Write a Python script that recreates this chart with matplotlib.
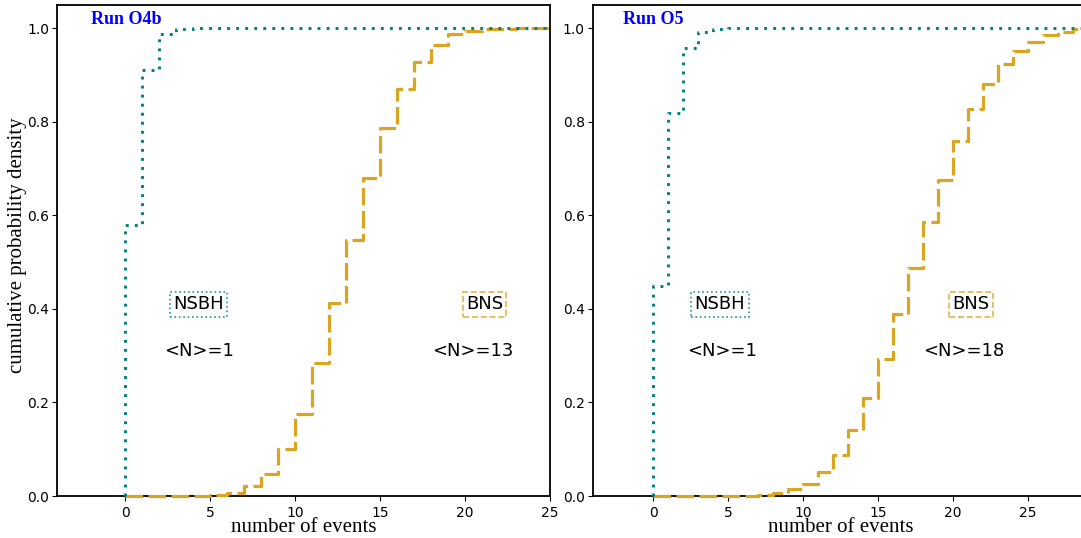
import numpy as np
import matplotlib
matplotlib.use('Agg')
import matplotlib.pyplot as plt

# cumulative probability of detecting N events, per observing run
o4b_nsbh = [0.58, 0.91, 0.989, 0.998, 1.0, 1.0]
o4b_bns = [0.0, 0.0, 0.0001, 0.0003, 0.0008, 0.002, 0.007, 0.021, 0.048, 0.10,
           0.176, 0.285, 0.413, 0.548, 0.679, 0.788, 0.871, 0.929, 0.965, 0.987,
           0.994, 0.998, 0.999, 1.0, 1.0, 1.0]

o5_nsbh = [0.45, 0.818, 0.958, 0.992, 0.998, 1.0, 1.0]
o5_bns = [0.0, 0.0, 0.0, 0.0, 0.0002, 0.0005, 0.001, 0.003, 0.006, 0.014,
          0.026, 0.051, 0.088, 0.142, 0.21, 0.294, 0.389, 0.487, 0.585, 0.676,
          0.760, 0.827, 0.882, 0.923, 0.951, 0.971, 0.985, 0.993, 0.998, 1.0, 1.0]

runs = ['Run O4b', 'Run O5']
mean_nsbh = [1, 1]
mean_bns = [13, 18]

NSBH_C = '#008080'
BNS_C = '#DAA520'

fig = plt.figure(figsize=(10.81, 5.38), dpi=100)
ax_left = fig.add_axes([57.3 / 1081, 42 / 538, 492.7 / 1081, 491 / 538])
ax_right = fig.add_axes([593 / 1081, 42 / 538, 495 / 1081, 491 / 538])


def draw_cdf(ax, vals, xmax, **kw):
    # step curve starting from zero at N=0, last level held to the axis edge
    n = np.arange(len(vals))
    x = np.r_[0, n, xmax]
    y = np.r_[0, vals, vals[-1]]
    ax.step(x, y, where='post', clip_on=False, zorder=3, **kw)


setups = [
    (ax_left, o4b_nsbh, o4b_bns, (-4, 25), (4.32, 21.14), (4.32, 20.47)),
    (ax_right, o5_nsbh, o5_bns, (-4, 29), (4.47, 21.2), (4.6, 20.7)),
]

for i, (ax, nsbh, bns, xlim, box_x, mean_x) in enumerate(setups):
    draw_cdf(ax, bns, xlim[1], color=BNS_C, lw=2.3,
             linestyle=(0, (5.5, 1.7)))
    draw_cdf(ax, nsbh, xlim[1], color=NSBH_C, lw=2.1,
             linestyle=(0, (1, 2.1)))

    ax.set_xlim(*xlim)
    ax.set_ylim(0, 1.05)
    ax.set_xticks([0, 5, 10, 15, 20, 25])
    ax.set_yticks([0.0, 0.2, 0.4, 0.6, 0.8, 1.0])
    ax.tick_params(labelsize=10)
    ax.tick_params(axis='y', pad=2.5)
    for sp in ax.spines.values():
        sp.set_linewidth(1.3)

    ax.text(-2, 1.0, runs[i], color='blue', fontweight='bold',
            family='Liberation Serif', fontsize=13, va='bottom', ha='left')

    ax.text(box_x[0], 0.41, 'NSBH', fontsize=13, ha='center', va='center',
            bbox=dict(boxstyle='square,pad=0.18', fc='none', ec=NSBH_C,
                      ls=':', lw=1.2, alpha=0.85))
    ax.text(box_x[1], 0.41, 'BNS', fontsize=13, ha='center', va='center',
            bbox=dict(boxstyle='square,pad=0.18', fc='none', ec=BNS_C,
                      ls='--', lw=1.2, alpha=0.8))
    ax.text(mean_x[0], 0.31, '<N>=%d' % mean_nsbh[i], fontsize=13,
            ha='center', va='center')
    ax.text(mean_x[1], 0.31, '<N>=%d' % mean_bns[i], fontsize=13,
            ha='center', va='center')

    ax.set_xlabel('number of events', family='Liberation Serif', fontsize=15)
    ax.xaxis.set_label_coords(0.5, -0.045)

ax_left.set_ylabel('cumulative probability density', family='Liberation Serif',
                   fontsize=15)
ax_left.yaxis.set_label_coords(-0.061, 0.51)

fig.savefig('out.png', dpi=100)
